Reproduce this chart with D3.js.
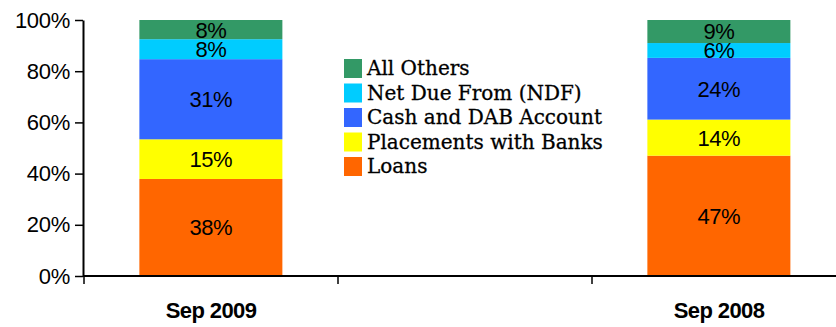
<!DOCTYPE html>
<html>
<head>
<meta charset="utf-8">
<script src="https://cdn.jsdelivr.net/npm/d3@7"></script>
<style>
  body { margin: 0; background: #fff; }
  svg { display: block; }
</style>
</head>
<body>
<div id="chart"></div>
<script>
// categories (middle slot is empty, the legend sits there)
const categories = ["Sep 2009", "", "Sep 2008"];
const seriesNames = ["Loans", "Placements with Banks", "Cash and DAB Account", "Net Due From (NDF)", "All Others"];
const seriesColors = ["#FF6600", "#FFFF00", "#3366FF", "#00CCFF", "#339966"];

// shares per series, in %
const sep2009Values = [37.9, 15.5, 31.3, 7.8, 7.5];
const sep2008Values = [47.0, 14.1, 24.1, 5.8, 9.0];
// labels as printed in the bars
const sep2009Labels = ["38%", "15%", "31%", "8%", "8%"];
const sep2008Labels = ["47%", "14%", "24%", "6%", "9%"];

const yTicks = [0, 20, 40, 60, 80, 100];

const W = 836, H = 327;
const svg = d3.select("#chart").append("svg")
  .attr("width", W).attr("height", H);

// build stacking rows
const rows = [
  { cat: "Sep 2009", values: sep2009Values, labels: sep2009Labels },
  { cat: "Sep 2008", values: sep2008Values, labels: sep2008Labels }
];
const table = rows.map(r => {
  const o = { cat: r.cat };
  seriesNames.forEach((s, i) => { o[s] = r.values[i]; });
  return o;
});
const stacked = d3.stack().keys(seriesNames)(table);

const x = d3.scaleBand().domain(categories).range([84, 846]);
const y = d3.scaleLinear().domain([0, 100]).range([276, 20]);

const barOff = 0.218, barW = 0.563;

// bars
stacked.forEach((layer, si) => {
  svg.append("g").selectAll("rect")
    .data(layer)
    .join("rect")
    .attr("x", d => x(d.data.cat) + x.bandwidth() * barOff)
    .attr("width", x.bandwidth() * barW)
    .attr("y", d => y(d[1]))
    .attr("height", d => y(d[0]) - y(d[1]))
    .attr("fill", seriesColors[si]);
});

// labels in bars
stacked.forEach((layer, si) => {
  svg.append("g").selectAll("text")
    .data(layer)
    .join("text")
    .attr("x", d => x(d.data.cat) + x.bandwidth() * (barOff + barW / 2))
    .attr("y", d => (y(d[0]) + y(d[1])) / 2)
    .attr("dy", "0.36em")
    .attr("text-anchor", "middle")
    .style("font-family", "'Liberation Sans', Arial, sans-serif")
    .style("font-size", "22px")
    .style("letter-spacing", "-0.5px")
    .attr("fill", "#000")
    .text((d, i) => rows[i].labels[si]);
});

// y axis
const yAxis = svg.append("g")
  .attr("transform", "translate(83,0)")
  .call(d3.axisLeft(y).tickValues(yTicks).tickFormat(d => d + "%").tickSize(8).tickSizeOuter(0));
yAxis.select(".domain").attr("stroke", "#000").attr("stroke-width", 2);
yAxis.selectAll(".tick line").attr("stroke", "#000").attr("stroke-width", 1.5);
yAxis.selectAll(".tick text")
  .attr("x", -13)
  .style("font-family", "'Liberation Sans', Arial, sans-serif")
  .style("font-size", "22px")
  .style("letter-spacing", "-0.3px")
  .attr("fill", "#000");

// x axis baseline and ticks at band edges
svg.append("line")
  .attr("x1", 83).attr("x2", W)
  .attr("y1", y(0)).attr("y2", y(0))
  .attr("stroke", "#000").attr("stroke-width", 2);
svg.append("g").selectAll("line")
  .data(categories)
  .join("line")
  .attr("x1", d => x(d)).attr("x2", d => x(d))
  .attr("y1", y(0)).attr("y2", y(0) + 8)
  .attr("stroke", "#000").attr("stroke-width", 1.5);
svg.append("g").selectAll("text")
  .data(categories.filter(c => c))
  .join("text")
  .attr("x", d => x(d) + x.bandwidth() / 2)
  .attr("y", 318)
  .attr("text-anchor", "middle")
  .style("font-family", "'Liberation Sans', Arial, sans-serif")
  .style("font-size", "22px")
  .style("font-weight", "bold")
  .style("letter-spacing", "-0.6px")
  .text(d => d);

// legend (top entry is the last stacked series)
const legend = svg.append("g").attr("transform", "translate(344,59)");
const legendItems = seriesNames.map((s, i) => ({ name: s, color: seriesColors[i] })).reverse();
const item = legend.selectAll("g")
  .data(legendItems)
  .join("g")
  .attr("transform", (d, i) => `translate(0,${i * 24.5})`);
item.append("rect")
  .attr("width", 18).attr("height", 19)
  .attr("fill", d => d.color);
item.append("text")
  .attr("x", 23).attr("y", 16)
  .style("font-family", "'DejaVu Serif', serif")
  .style("font-size", "20px")
  .attr("fill", "#000")
  .attr("stroke", "#000")
  .attr("stroke-width", 0.3)
  .text(d => d.name);
</script>
</body>
</html>
